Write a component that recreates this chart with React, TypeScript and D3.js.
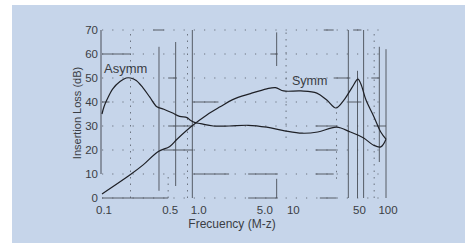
import React from "react";
import * as d3 from "d3";

// ---- data ----
const asymmFreq = [0.1, 0.105, 0.113, 0.13, 0.155, 0.18, 0.2, 0.23, 0.27, 0.32, 0.38, 0.45, 0.55, 0.66, 0.79, 0.85, 0.95, 1.1, 1.5, 2.2, 3.5, 5.5, 8.5, 13, 19, 30, 42, 58, 74, 88, 100];
const asymmLoss = [35, 38, 41, 45.5, 48.5, 50, 50, 49, 46, 42, 38, 37, 35.5, 34, 33.5, 32.5, 31.5, 31, 30, 30, 30.3, 29.5, 28, 27, 27.5, 29.5, 27.5, 25, 22, 21.3, 24.5];

const symmFreq = [0.1, 0.2, 0.27, 0.39, 0.52, 0.62, 0.89, 1.28, 1.77, 2.4, 3.7, 5.5, 6.8, 8.3, 12.6, 18.6, 23.7, 29.6, 35.9, 43.7, 50.5, 54.3, 61.5, 74.7, 88, 100];
const symmLoss = [1.7, 9.8, 13.7, 19.3, 21.5, 24.5, 30, 34.6, 38, 41, 43.5, 45.5, 46, 44.6, 44.6, 43.7, 40.8, 37.5, 40.8, 46, 49.5, 47.5, 40.8, 33.8, 27.5, 24.5];

const yTicks = [0, 10, 20, 30, 40, 50, 60, 70];
const xTickValues = [0.1, 0.5, 1, 5, 10, 50, 100];
const xTickLabels = ["0.1", "0.5", "1.0", "5.0", "10", "50", "100"];

// grid pieces of the scanned figure: [value, from, to]
const hSolid: [number, number, number][] = [
  [70, 0.35, 0.45], [70, 22, 28], [70, 45, 55],
  [60, 0.1, 0.2], [60, 6, 7.2],
  [50, 0.5, 0.62], [50, 28, 42], [50, 70, 85],
  [40, 0.1, 0.12], [40, 0.9, 1.7], [40, 40, 55],
  [30, 0.5, 0.92], [30, 18, 30], [30, 75, 100],
  [20, 0.45, 0.92], [20, 18, 30],
  [10, 0.92, 2.2], [10, 3.5, 7.2], [10, 18, 28],
  [0, 0.1, 0.5], [0, 3.5, 7.2], [0, 20, 30],
];
const vSolid: [number, number, number][] = [
  [0.4, 3, 63], [0.6, 5, 65], [0.9, 0, 70], [7, 55, 69], [7, 0, 8],
  [40, 0, 70], [50, 0, 53], [58, 0, 70], [85, 15, 63], [100, 0, 62],
];
const vDashed: [number, number, number][] = [
  [0.5, 0, 10], [0.2, 0, 70], [0.8, 0, 70], [8.8, 25, 70], [30, 8, 38], [75, 0, 70],
];

const W = 468;
const H = 243;

export default function App() {
  const x = d3.scaleLog().domain([0.1, 100]).range([102, 386]);
  const y = d3.scaleLinear().domain([0, 70]).range([198, 30]);

  const line = d3
    .line<[number, number]>()
    .x((d) => x(d[0]))
    .y((d) => y(d[1]))
    .curve(d3.curveCatmullRom.alpha(0.5));

  const asymm = line(asymmFreq.map((f, i) => [f, asymmLoss[i]] as [number, number])) || "";
  const symm = line(symmFreq.map((f, i) => [f, symmLoss[i]] as [number, number])) || "";

  const font = "'Liberation Sans', Arial, sans-serif";
  const grid = "#4a4f58";
  const textCol = "#3a3d44";

  return (
    <svg
      width={W}
      height={H}
      style={{ position: "fixed", left: 0, top: 0, display: "block" }}
    >
      <rect x={0} y={0} width={W} height={H} fill="#ffffff" />
      <rect x={12} y={5} width={453} height={238} fill="#c6d5ea" />

      {/* dotted horizontal grid */}
      {yTicks.map((v) => (
        <line
          key={"hd" + v}
          x1={x(0.1)}
          x2={x(100)}
          y1={y(v)}
          y2={y(v)}
          stroke={grid}
          strokeWidth={0.9}
          strokeDasharray="1.2,9"
          opacity={0.8}
        />
      ))}
      {hSolid.map((s, i) => (
        <line
          key={"hs" + i}
          x1={x(s[1])}
          x2={x(s[2])}
          y1={y(s[0])}
          y2={y(s[0])}
          stroke={grid}
          strokeWidth={0.9}
        />
      ))}
      {vDashed.map((s, i) => (
        <line
          key={"vd" + i}
          x1={x(s[0])}
          x2={x(s[0])}
          y1={y(s[1])}
          y2={y(s[2])}
          stroke={grid}
          strokeWidth={0.9}
          strokeDasharray="1.5,5"
          opacity={0.8}
        />
      ))}
      {vSolid.map((s, i) => (
        <line
          key={"vs" + i}
          x1={x(s[0])}
          x2={x(s[0])}
          y1={y(s[1])}
          y2={y(s[2])}
          stroke={grid}
          strokeWidth={0.9}
        />
      ))}

      {/* y axis line */}
      <line x1={x(0.1) - 1} x2={x(0.1) - 1} y1={y(70)} y2={y(10)} stroke={grid} strokeWidth={1} />

      {/* curves */}
      <path d={asymm} fill="none" stroke="#1e2026" strokeWidth={1.2} />
      <path d={symm} fill="none" stroke="#1e2026" strokeWidth={1.2} />

      {/* y tick labels */}
      {yTicks.map((v) => (
        <text
          key={"yt" + v}
          x={98}
          y={y(v)}
          dy="0.35em"
          textAnchor="end"
          fontFamily={font}
          fontSize={11.5}
          fill={textCol}
        >
          {v}
        </text>
      ))}

      {/* x tick labels */}
      {xTickValues.map((v, i) => (
        <text
          key={"xt" + v}
          x={x(v) + 2}
          y={214}
          textAnchor="middle"
          fontFamily={font}
          fontSize={11.5}
          fill={textCol}
        >
          {xTickLabels[i]}
        </text>
      ))}

      {/* axis titles */}
      <text
        x={232}
        y={228}
        textAnchor="middle"
        fontFamily={font}
        fontSize={12}
        fill={textCol}
      >
        Frecuency (M-z)
      </text>
      <text
        transform={`translate(81,113) rotate(-90)`}
        textAnchor="middle"
        fontFamily={font}
        fontSize={11}
        fill={textCol}
      >
        Insertion Loss (dB)
      </text>

      {/* series labels */}
      <text x={104} y={73} fontFamily={font} fontSize={13} fill={textCol}>
        Asymm
      </text>
      <text x={292} y={85} fontFamily={font} fontSize={12.5} fill={textCol}>
        Symm
      </text>
    </svg>
  );
}
